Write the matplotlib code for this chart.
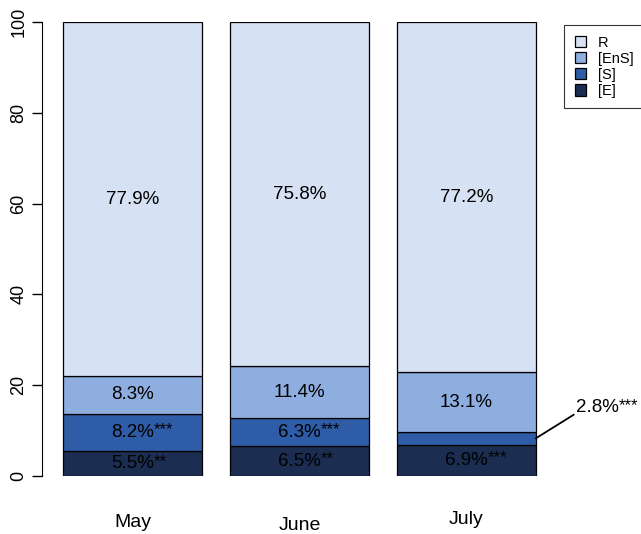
import numpy as np
import matplotlib.pyplot as plt

plt.rcParams['font.family'] = ['Liberation Sans', 'DejaVu Sans']

months = ['May', 'June', 'July']
series = ['[E]', '[S]', '[EnS]', 'R']
E = [5.5, 6.5, 6.9]
S = [8.2, 6.3, 2.8]
EnS = [8.3, 11.4, 13.1]
R = [77.9, 75.8, 77.2]
E_sig = ['**', '**', '***']
S_sig = ['***', '***', '***']

colors = {'[E]': '#1b2d50', '[S]': '#2e5ca6', '[EnS]': '#8eaee0', 'R': '#d6e1f3'}

fig = plt.figure(figsize=(6.41, 5.34), dpi=100)
ax = fig.add_axes([42 / 641, 58 / 534, 598 / 641, 454 / 534])

x = np.arange(len(months))
width = 0.832
data = {'[E]': E, '[S]': S, '[EnS]': EnS, 'R': R}
bottom = np.zeros(len(months))
bars = {}
for name in series:
    vals = np.array(data[name])
    bars[name] = ax.bar(x, vals, width, bottom=bottom, color=colors[name],
                        edgecolor='black', linewidth=0.9, label=name)
    bottom += vals

fs = 13.5


def label(xp, yp, txt, stars=None, ha='center'):
    t = ax.text(xp, yp, txt, ha=ha, va='center', fontsize=fs)
    if stars:
        ax.annotate(stars, xy=(1.0, 1.08), xycoords=t, ha='left', va='top',
                    fontsize=12)
    return t


# labels inside segments
for i in range(len(months)):
    label(x[i], E[i] / 2, f'{E[i]}%', E_sig[i])
    if S[i] > 4:
        label(x[i], E[i] + S[i] / 2, f'{S[i]}%', S_sig[i])
    b = E[i] + S[i]
    label(x[i], b + EnS[i] / 2, f'{EnS[i]}%')
    b += EnS[i]
    label(x[i], b + R[i] / 2, f'{R[i]}%')

# small July segment label with leader line
j = 2
t = label(x[j] + width / 2 + 0.24, 15, f'{S[j]}%', S_sig[j], ha='left')
ax.annotate('', xy=(x[j] + width / 2, E[j] + S[j] / 2), xytext=(-0.05, 0.1),
            textcoords=t, arrowprops=dict(arrowstyle='-', color='black', lw=1.3,
                                          shrinkA=0, shrinkB=0))

ax.set_ylim(0, 100)
ax.set_xlim(-0.542, 3.04)
ax.set_yticks([0, 20, 40, 60, 80, 100])
ax.tick_params(axis='y', labelsize=13, length=7, width=1, rotation=90)
for lab in ax.get_yticklabels():
    lab.set_va('center')
ax.set_xticks([])
for s in ['top', 'right', 'bottom']:
    ax.spines[s].set_visible(False)
ax.spines['left'].set_bounds(0, 100)

# month labels
label_y = [-10.2, -10.8, -9.5]
for i, m in enumerate(months):
    ax.text(x[i], label_y[i], m, ha='center', va='center', fontsize=14)

handles = [bars[n] for n in ['R', '[EnS]', '[S]', '[E]']]
leg = fig.legend(handles, ['R', '[EnS]', '[S]', '[E]'], loc='upper left',
                 bbox_to_anchor=(557 / 641, 1 - 18 / 534), fontsize=10.5,
                 frameon=True, fancybox=False, edgecolor='black',
                 handlelength=0.8, handleheight=0.8, labelspacing=0.15,
                 borderpad=0.7, handletextpad=0.8)
leg.get_frame().set_linewidth(0.8)

fig.savefig('out.png', dpi=100)
